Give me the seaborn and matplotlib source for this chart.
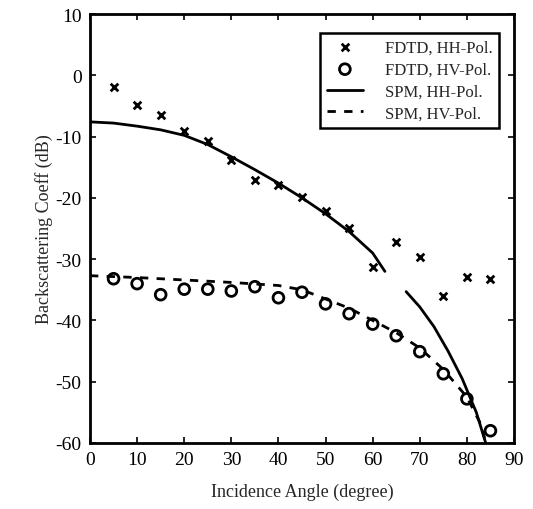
import numpy as np
import pandas as pd
import matplotlib
matplotlib.use("Agg")
import matplotlib.pyplot as plt
import seaborn as sns

# FDTD data (degrees, dB)
fdtd_angles = [5, 10, 15, 20, 25, 30, 35, 40, 45, 50, 55, 60, 65, 70, 75, 80, 85]
fdtd_hh = [-1.9, -4.8, -6.5, -9.1, -10.7, -13.8, -17.1, -17.9, -19.9, -22.1, -24.9,
           -31.3, -27.2, -29.6, -36.0, -32.9, -33.2]
fdtd_hv = [-33.2, -34.0, -35.8, -34.9, -34.9, -35.2, -34.5, -36.3, -35.4, -37.3,
           -38.9, -40.6, -42.5, -45.1, -48.7, -52.8, -58.0]

# SPM curves
spm_hh_angles = [0, 5, 10, 15, 20, 25, 30, 35, 40, 45, 50, 55, 60, 62.6, 64.8,
                 67.1, 70, 73, 76, 79, 82, 84]
spm_hh = [-7.6, -7.8, -8.3, -8.9, -9.8, -11.3, -13.3, -15.4, -17.6, -20.0, -22.6,
          -25.5, -29.0, -32.0, np.nan, -35.3, -37.8, -41.0, -45.0, -49.5, -55.0, -60.0]
spm_hv_angles = [0, 10, 20, 30, 40, 45, 50, 55, 60, 65, 70, 75, 80, 83, 84]
spm_hv = [-32.7, -33.0, -33.4, -33.8, -34.3, -35.0, -36.5, -38.0, -40.0, -42.0,
          -44.5, -48.0, -52.5, -57.0, -60.0]

x_ticks = [0, 10, 20, 30, 40, 50, 60, 70, 80, 90]
y_ticks = [10, 0, -10, -20, -30, -40, -50, -60]

sns.set_theme(style="ticks")
plt.rcParams['font.family'] = ['Liberation Serif', 'DejaVu Serif']
plt.rcParams['axes.unicode_minus'] = False

fig = plt.figure(figsize=(5.33, 5.10), dpi=100)
ax = fig.add_axes([90/533, 1 - 444/510, (514-90)/533, (444-15)/510])

df_fdtd = pd.DataFrame({"angle": fdtd_angles, "hh": fdtd_hh, "hv": fdtd_hv})
df_hh = pd.DataFrame({"angle": spm_hh_angles, "val": spm_hh})
df_hv = pd.DataFrame({"angle": spm_hv_angles, "val": spm_hv})

sns.scatterplot(data=df_fdtd, x="angle", y="hh", marker="x", s=30, color="black",
                linewidth=2.0, ax=ax, label="FDTD, HH-Pol.")
sns.scatterplot(data=df_fdtd, x="angle", y="hv", marker="o", s=60, facecolor="none",
                edgecolor="black", linewidth=2.0, ax=ax, label="FDTD, HV-Pol.")
ax.plot(df_hh["angle"], df_hh["val"], color="black", lw=2.0, label="SPM, HH-Pol.")
sns.lineplot(data=df_hv, x="angle", y="val", color="black", lw=2.0,
             linestyle=(0, (3, 3)), ax=ax, label="SPM, HV-Pol.")

ax.set_xlim(0, 90)
ax.set_ylim(-60, 10)
ax.set_xticks(x_ticks)
ax.set_yticks(y_ticks)
ax.tick_params(direction="in", top=True, right=True, length=4, width=1.2,
               labelsize=14, colors="black", pad=6)
for s in ax.spines.values():
    s.set_linewidth(2.0)
    s.set_color("black")
ax.set_xlabel("Incidence Angle (degree)", fontsize=13, labelpad=10)
ax.set_ylabel("Backscattering Coeff (dB)", fontsize=13, labelpad=2)

leg = ax.legend(loc="upper right", bbox_to_anchor=(0.985, 0.975), fontsize=12,
                frameon=True, fancybox=False, edgecolor="black", framealpha=1,
                handlelength=2.2, handletextpad=1.3, borderpad=0.4,
                labelspacing=0.35)
leg.get_frame().set_linewidth(1.8)

fig.savefig("out.png", dpi=100)
